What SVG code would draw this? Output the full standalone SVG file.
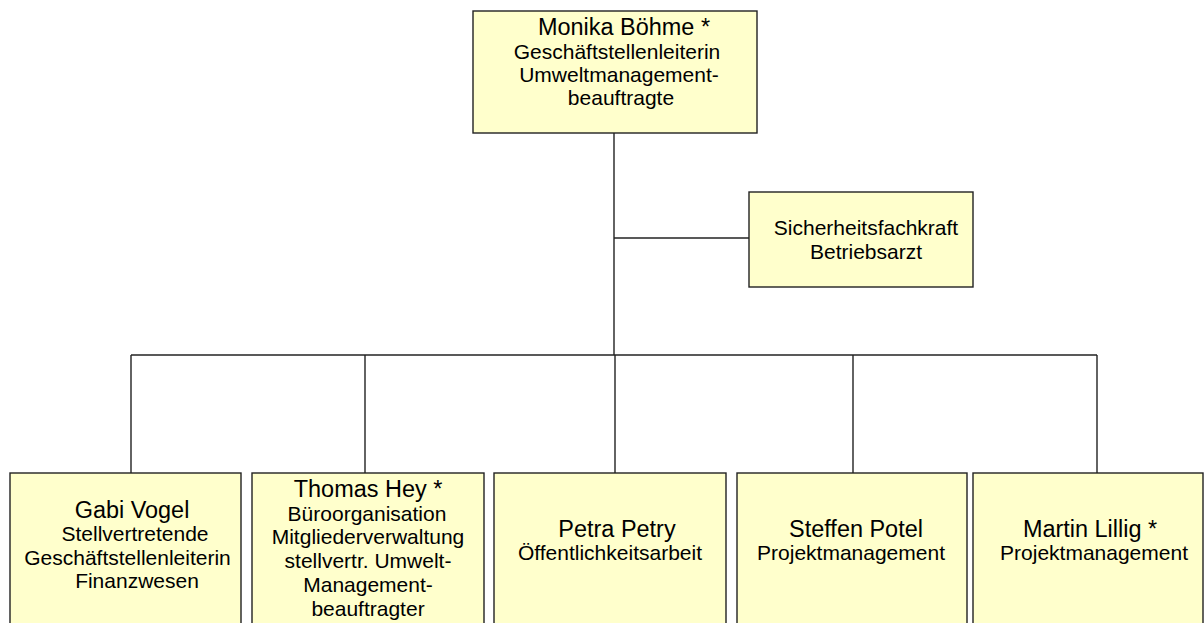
<svg xmlns="http://www.w3.org/2000/svg" width="1204" height="623" viewBox="0 0 1204 623">
<style>
.box{fill:#FFFFCC;stroke:#222;stroke-width:1.4}
.con line{stroke:#222;stroke-width:1.4}
text{font-family:"Liberation Sans",Arial,sans-serif;fill:#000;text-anchor:middle}
.n{font-size:23px}
.s{font-size:21px}
</style>
<rect width="1204" height="623" fill="#fff"/>
<g id="connectors" class="con">
<line x1="614" y1="133" x2="614" y2="355"/>
<line x1="614" y1="238" x2="749" y2="238"/>
<line x1="131" y1="355" x2="1097" y2="355"/>
<line x1="131" y1="355" x2="131" y2="473"/>
<line x1="365" y1="355" x2="365" y2="473"/>
<line x1="615" y1="355" x2="615" y2="473"/>
<line x1="853" y1="355" x2="853" y2="473"/>
<line x1="1097" y1="355" x2="1097" y2="473"/>
</g>
<g id="boehme">
<rect class="box" x="473" y="11" width="284" height="122"/>
<text class="n" transform="translate(624,35) scale(1.02,1)">Monika Böhme *</text>
<text class="s" x="617" y="59">Geschäftstellenleiterin</text>
<text class="s" x="619" y="82">Umweltmanagement-</text>
<text class="s" x="621" y="105">beauftragte</text>
</g>
<g id="sicherheit">
<rect class="box" x="749" y="192" width="224" height="95"/>
<text class="s" x="866" y="235">Sicherheitsfachkraft</text>
<text class="s" x="866" y="259">Betriebsarzt</text>
</g>
<g id="vogel">
<rect class="box" x="10" y="473" width="231" height="170"/>
<text class="n" transform="translate(132,518) scale(1.02,1)">Gabi Vogel</text>
<text class="s" x="135" y="541">Stellvertretende</text>
<text class="s" x="127.5" y="565">Geschäftstellenleiterin</text>
<text class="s" x="137" y="588">Finanzwesen</text>
</g>
<g id="hey">
<rect class="box" x="252" y="473" width="232" height="170"/>
<text class="n" transform="translate(368,497) scale(1.02,1)">Thomas Hey *</text>
<text class="s" x="367" y="521">Büroorganisation</text>
<text class="s" x="368" y="544">Mitgliederverwaltung</text>
<text class="s" x="368" y="568">stellvertr. Umwelt-</text>
<text class="s" x="368" y="592">Management-</text>
<text class="s" x="368" y="616">beauftragter</text>
</g>
<g id="petry">
<rect class="box" x="494" y="473" width="232" height="170"/>
<text class="n" transform="translate(617,537) scale(1.02,1)">Petra Petry</text>
<text class="s" x="610" y="560">Öffentlichkeitsarbeit</text>
</g>
<g id="potel">
<rect class="box" x="737" y="473" width="230" height="170"/>
<text class="n" transform="translate(856,537) scale(1.02,1)">Steffen Potel</text>
<text class="s" x="851" y="560">Projektmanagement</text>
</g>
<g id="lillig">
<rect class="box" x="973" y="473" width="230" height="170"/>
<text class="n" transform="translate(1090,537) scale(1.02,1)">Martin Lillig *</text>
<text class="s" x="1094" y="560">Projektmanagement</text>
</g>
</svg>
